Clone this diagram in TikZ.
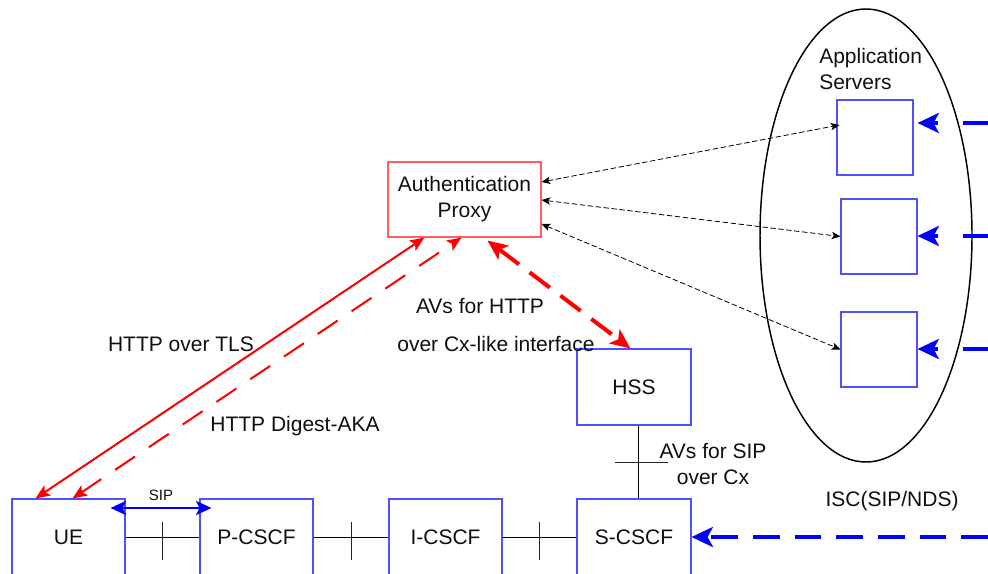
\documentclass[tikz,border=0pt]{standalone}
\usepackage{fontspec}
\setmainfont{Liberation Sans}
\usetikzlibrary{arrows.meta,calc,shapes.geometric}
\definecolor{boxblue}{RGB}{80,80,255}
\definecolor{proxyred}{RGB}{255,95,95}
\definecolor{txt}{RGB}{15,15,15}
\begin{document}
\begin{tikzpicture}[x=0.75pt,y=-0.75pt,
  font=\fontsize{15.75}{19.5}\selectfont, text=txt,
  netbox/.style={draw=boxblue,line width=0.8pt,inner sep=0pt,minimum width=84.75pt,minimum height=57pt},
  asbox/.style={draw=boxblue,line width=0.8pt,inner sep=0pt,minimum width=57pt,minimum height=56.25pt},
  link/.style={draw=black,line width=0.6pt},
  tickmark/.style={draw=black!85,line width=0.6pt},
  redtip/.tip={Stealth[length=11pt,width=9pt,inset=2.5pt]},
  cxtip/.tip={Stealth[length=15pt,width=13pt,inset=3.5pt]},
  blacktip/.tip={Stealth[length=6.5pt,width=5.5pt,inset=1.5pt]},
  isctip/.tip={Stealth[length=16pt,width=15pt,inset=4pt]},
  siptip/.tip={Stealth[length=11.5pt,width=10.5pt,inset=2.5pt]},
  httpsolid/.style={draw=red,line width=1.5pt,redtip-redtip},
  httpdashed/.style={draw=red,line width=1.5pt,dash pattern=on 18pt off 12.5pt,redtip-redtip},
  cxdashed/.style={draw=red,line width=3pt,dash pattern=on 19pt off 10pt,cxtip-cxtip},
  asdashed/.style={draw=black,line width=0.6pt,dash pattern=on 4pt off 2pt,blacktip-blacktip},
  iscarrow/.style={draw=blue,line width=3pt,dash pattern=on 20pt off 19pt,-isctip},
  iscbottom/.style={draw=blue,line width=3pt,dash pattern=on 20pt off 11.25pt,dash phase=24.5pt,-isctip},
  siparrow/.style={draw=blue,line width=2.2pt,siptip-siptip},
  lbl/.style={inner sep=0pt,align=center}
]
\useasboundingbox (0,0) rectangle (988,574);
\clip (0,0) rectangle (988,574);

% boxes
\node[netbox] (UE) at (68.5,537) {UE};
\node[netbox] (P) at (256.5,537) {P-CSCF};
\node[netbox] (I) at (445.5,537) {I-CSCF};
\node[netbox,minimum width=85.5pt] (S) at (634,537) {S-CSCF};
\node[netbox,minimum width=85.5pt] (HSS) at (634,387) {HSS};
\node[draw=proxyred,line width=0.8pt,inner sep=0pt,minimum width=114.75pt,minimum height=56.25pt,align=center] (Auth) at (464.5,199.5) {Authentication\\Proxy};

% application servers
\node[draw=black,line width=1.1pt,ellipse,inner sep=0pt,minimum width=159pt,minimum height=339.75pt] (ASG) at (866,235.5) {};
\node[lbl,align=left,anchor=west] (ASL) at (819,68.5) {Application\\Servers};
\node[asbox] (AS1) at (875,137.5) {};
\node[asbox] (AS2) at (879,236.5) {};
\node[asbox] (AS3) at (879,349.5) {};

% SIP interfaces with ticks
\draw[link] (UE.east) -- coordinate[midway] (t1) (P.west);
\draw[tickmark] ($(t1)+(0,-15)$) -- ($(t1)+(0,23)$);
\draw[link] (P.east) -- coordinate[midway] (t2) (I.west);
\draw[tickmark] ($(t2)+(0,-15)$) -- ($(t2)+(0,23)$);
\draw[link] (I.east) -- coordinate[midway] (t3) (S.west);
\draw[tickmark] ($(t3)+(0,-15)$) -- ($(t3)+(0,23)$);
\draw[link] ($(HSS.south)+(4,0)$) -- coordinate[midway] (t4) ($(S.north)+(4,0)$);
\draw[tickmark] ($(t4)+(-23,0)$) -- ($(t4)+(30,0)$);

% SIP arrow
\draw[siparrow] ($(UE.east)+(-15,-29)$) -- ($(P.west)+(12,-29)$);
\node[lbl,font=\fontsize{11.25}{13}\selectfont] (siplbl) at (161,495) {SIP};

% HTTP arrows
\draw[httpsolid] ($(UE.north west)+(24,0)$) -- ($(Auth.south west)+(37,0)$);
\draw[httpdashed] ($(UE.north west)+(61,0)$) -- ($(Auth.south west)+(74,0)$);
\draw[cxdashed] ($(Auth.south west)+(100,3)$) -- ($(HSS.north west)+(54,0)$);

\node[lbl] (l1) at (181,344) {HTTP over TLS};
\node[lbl] (l2) at (295,426) {HTTP Digest-AKA};
\node[lbl] (l3) at (480,306) {AVs for HTTP};
\node[lbl] (l4) at (496,344) {over Cx-like interface};
\node[lbl] (l5) at (713,464) {AVs for SIP\\over Cx};
\node[lbl] (l6) at (892,501) {ISC(SIP/NDS)};

% proxy to application servers
\draw[asdashed] ($(Auth.east)+(0,-17.5)$) -- ($(AS1.west)+(3,-12.5)$);
\draw[asdashed] ($(Auth.east)+(0,0.5)$) -- (AS2.west);
\draw[asdashed] ($(Auth.east)+(0,24.5)$) -- (AS3.west);

% ISC arrows
\coordinate (e1) at (990,123);
\coordinate (e2) at (990,236);
\coordinate (e3) at (990,349);
\coordinate (e4) at (997,537);
\draw[iscarrow] (e1) -- ($(AS1.east)+(4,-14.5)$);
\draw[iscarrow] (e2) -- ($(AS2.east)+(0,-0.5)$);
\draw[iscarrow] (e3) -- ($(AS3.east)+(0,-0.5)$);
\draw[iscbottom] (e4) -- (S.east);
\end{tikzpicture}
\end{document}
